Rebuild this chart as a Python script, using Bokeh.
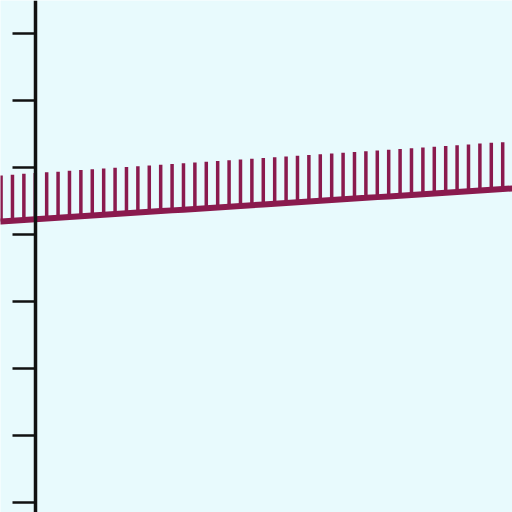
from bokeh.plotting import figure
from bokeh.models import Range1d, FixedTicker, CustomJSTickFormatter
from bokeh.embed import file_html
from bokeh.resources import INLINE

# spike positions (axis at x = 0)
xs = [k - 3 for k in range(45)]
# baseline of the hatched line
base = [4.197, 4.208, 4.219, 4.230, 4.241, 4.252, 4.263, 4.274, 4.285, 4.296,
        4.307, 4.318, 4.329, 4.340, 4.351, 4.362, 4.373, 4.384, 4.395, 4.406,
        4.417, 4.428, 4.439, 4.450, 4.461, 4.472, 4.483, 4.494, 4.505, 4.516,
        4.527, 4.538, 4.549, 4.560, 4.571, 4.582, 4.593, 4.604, 4.615, 4.626,
        4.637, 4.648, 4.659, 4.670, 4.681]
# tops of the vertical spikes
tops = [4.885, 4.896, 4.908, 4.919, 4.930, 4.941, 4.953, 4.964, 4.975, 4.987,
        4.998, 5.009, 5.021, 5.032, 5.043, 5.055, 5.066, 5.077, 5.088, 5.100,
        5.111, 5.122, 5.134, 5.145, 5.156, 5.168, 5.179, 5.190, 5.201, 5.213,
        5.224, 5.235, 5.247, 5.258, 5.269, 5.281, 5.292, 5.303, 5.314, 5.326,
        5.337, 5.348, 5.360, 5.371, 5.382]
# baseline continues to both edges of the picture
line_x = [-3.2] + xs + [42.0]
line_y = [4.195] + base + [4.692]
y_ticks = [0, 1, 2, 3, 4, 5, 6, 7]

BG = "#e8fafd"
COL = "#8a1a4e"

p = figure(width=512, height=512, output_backend="svg", toolbar_location=None,
           x_axis_location=None, min_border=0,
           x_range=Range1d(-3.05, 41.86), y_range=Range1d(-0.154, 7.499),
           background_fill_color=BG, border_fill_color=BG)
p.outline_line_color = None
p.grid.visible = False

ax = p.yaxis[0]
ax.fixed_location = 0
ax.ticker = FixedTicker(ticks=y_ticks)
ax.formatter = CustomJSTickFormatter(code="return ''")
ax.major_tick_out = 23
ax.major_tick_in = 0
ax.minor_tick_out = 0
ax.minor_tick_in = 0
ax.axis_line_width = 3.5
ax.axis_line_color = "#111111"
ax.major_tick_line_width = 2.5
ax.major_tick_line_color = "#111111"

p.segment(x0=xs, y0=base, x1=xs, y1=tops, line_color=COL, line_width=3.5)
p.line(line_x, line_y, line_color=COL, line_width=6)

open("out.html", "w").write(file_html(p, INLINE))
